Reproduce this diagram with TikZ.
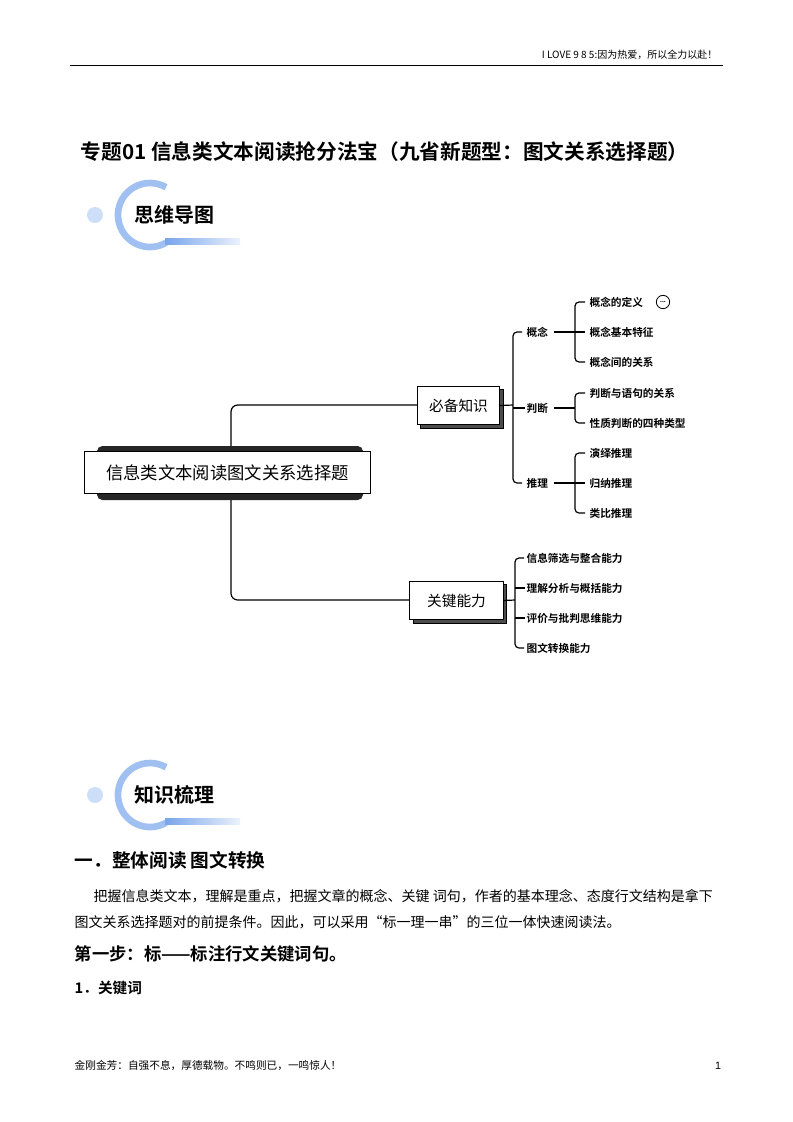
\documentclass[tikz,border=0pt]{standalone}
\usepackage{fontspec}
\setmainfont{Liberation Sans}
\newfontfamily\cjk{Noto Sans CJK SC}
\newfontfamily\cjkb{Noto Sans CJK SC Bold}
\usetikzlibrary{positioning}
\tikzset{
  px/.style={x=0.75pt,y=-0.75pt},
  topicbox/.style={draw,fill=white,line width=0.6pt,inner sep=0pt,font=\cjk\fontsize{11}{13}\selectfont},
  leaf/.style={anchor=west,inner sep=1pt,font=\cjkb\fontsize{8}{10}\selectfont},
  branch/.style={line width=0.9pt},
  bar/.style={line width=0.9pt,rounded corners=3pt}
}
\definecolor{ringblue}{RGB}{120,165,235}
\definecolor{paleblue}{RGB}{205,222,248}
\begin{document}
\begin{tikzpicture}[px]
\useasboundingbox (0,0) rectangle (793,1122);
% header
\node[anchor=east,font=\cjk\fontsize{7.5}{9}\selectfont] (hdr) at (722,55) {I LOVE 9 8 5:因为热爱，所以全力以赴！};
\draw[line width=0.5pt] (70,65) -- (723,65);
% title
\node[anchor=west,font=\cjkb\fontsize{15.5}{18}\selectfont] (ttl) at (76,152) {专题01 信息类文本阅读抢分法宝（九省新题型：图文关系选择题）};
% badges
\foreach \yy/\txt/\nm in {215/思维导图/bA,795/知识梳理/bB}{
  \fill[paleblue] (95,\yy) circle (8);
  \draw[ringblue!70,line width=5pt] (150,\yy) ++(60:32) arc (60:300:32);
  \shade[left color=ringblue,right color=paleblue!40] (165,\yy+23) rectangle (240,\yy+29);
  \node[anchor=west,font=\cjkb\fontsize{15}{17}\selectfont] (\nm) at (130,\yy) {\txt};
}
% mind map
\draw[branch,rounded corners=5pt] (417,405) -- (231,405) -- (231,600) -- (410,600);
\fill[black!85,rounded corners=4pt] (97,446) rectangle (363,500);
\node[topicbox,minimum width=215pt,minimum height=31pt,font=\cjk\fontsize{13}{15}\selectfont] (root) at (227.5,472.5) {信息类文本阅读图文关系选择题};
\draw[fill=black!70] (420,389) rectangle (503,428);
\node[topicbox,minimum width=62pt,minimum height=29pt] (bz) at (458.5,405.5) {必备知识};
\draw[fill=black!70] (413,584) rectangle (506,623);
\node[topicbox,minimum width=70pt,minimum height=29pt] (gj) at (456.5,600.5) {关键能力};
% knowledge
\node[leaf] (gn) at (525,332) {概念};
\node[leaf] (pd) at (525,408) {判断};
\node[leaf] (tl) at (525,483) {推理};
\draw[branch] (bz.east) -- (513,405);
\draw[bar] (522,332) -- (513,332) -- (513,483) -- (522,483);
\draw[branch] (513,408) -- (pd.west);
\foreach \pa/\ya/\yb in {gn/302/362,pd/393/423,tl/453/513}{
  \draw[branch] (\pa.east) ++(4,0) -- (575,0 |- \pa.east);
  \draw[bar] (585,\ya) -- (575,\ya) -- (575,\yb) -- (585,\yb);
}
\draw[branch] (575,332) -- (585,332);
\draw[branch] (575,483) -- (585,483);
\foreach \t/\yy/\nm in {概念的定义/302/a1,概念基本特征/332/a2,概念间的关系/362/a3,判断与语句的关系/393/b1,性质判断的四种类型/423/b2,演绎推理/453/c1,归纳推理/483/c2,类比推理/513/c3}
  \node[leaf] (\nm) at (588,\yy) {\t};
\node[draw,circle,line width=0.6pt,minimum size=10pt,inner sep=0pt,font=\bfseries\fontsize{5}{5}\selectfont] (more) at (663,302) {...};
% abilities
\draw[branch] (gj.east) -- (515,600);
\draw[bar] (524,558) -- (515,558) -- (515,648) -- (524,648);
\foreach \t/\yy/\nm in {信息筛选与整合能力/558/d1,理解分析与概括能力/588/d2,评价与批判思维能力/618/d3,图文转换能力/648/d4}{
  \node[leaf] (\nm) at (525,\yy) {\t};
}
\draw[branch] (515,588) -- (d2.west);
\draw[branch] (515,618) -- (d3.west);
% body text
\node[anchor=west,font=\cjkb\fontsize{14}{16}\selectfont] (h1) at (70,860) {一．整体阅读 图文转换};
\node[anchor=west,font=\cjk\fontsize{10.5}{13}\selectfont] (p1) at (89,896) {把握信息类文本，理解是重点，把握文章的概念、关键 词句，作者的基本理念、态度行文结构是拿下};
\node[anchor=west,font=\cjk\fontsize{10.5}{13}\selectfont] (p2) at (70,922) {图文关系选择题对的前提条件。因此，可以采用“标一理一串”的三位一体快速阅读法。};
\node[anchor=west,font=\cjkb\fontsize{13}{15}\selectfont] (h2) at (70,954) {第一步：标——标注行文关键词句。};
\node[anchor=west,font=\cjkb\fontsize{11}{13}\selectfont] (h3) at (70,988) {1．关键词};
% footer
\node[anchor=west,font=\cjk\fontsize{8}{10}\selectfont] (ftr) at (70,1066) {金刚金芳：自强不息，厚德载物。不鸣则已，一鸣惊人！};
\node[font=\fontsize{8}{10}\selectfont] (pg) at (718,1066) {1};
\end{tikzpicture}
\end{document}
